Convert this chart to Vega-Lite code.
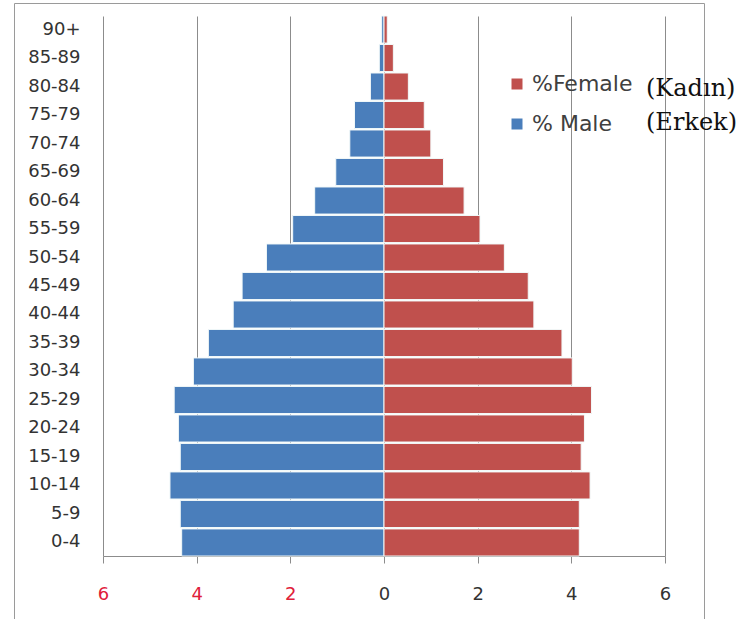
{
  "$schema": "https://vega.github.io/schema/vega-lite/v6.json",
  "width": 690,
  "height": 617,
  "autosize": {"type": "none"},
  "padding": {"left": 14, "top": 3, "right": 42, "bottom": 0},
  "background": "white",
  "config": {"view": {"stroke": "#9a9a9a", "strokeWidth": 1}, "font": "DejaVu Sans"},
  "data": {
    "values": [
      {"age": "90+", "sex": "% Male", "tr": "(Erkek)", "value": -0.05},
      {"age": "85-89", "sex": "% Male", "tr": "(Erkek)", "value": -0.1},
      {"age": "80-84", "sex": "% Male", "tr": "(Erkek)", "value": -0.29},
      {"age": "75-79", "sex": "% Male", "tr": "(Erkek)", "value": -0.63},
      {"age": "70-74", "sex": "% Male", "tr": "(Erkek)", "value": -0.73},
      {"age": "65-69", "sex": "% Male", "tr": "(Erkek)", "value": -1.03},
      {"age": "60-64", "sex": "% Male", "tr": "(Erkek)", "value": -1.48},
      {"age": "55-59", "sex": "% Male", "tr": "(Erkek)", "value": -1.95},
      {"age": "50-54", "sex": "% Male", "tr": "(Erkek)", "value": -2.51},
      {"age": "45-49", "sex": "% Male", "tr": "(Erkek)", "value": -3.03},
      {"age": "40-44", "sex": "% Male", "tr": "(Erkek)", "value": -3.22},
      {"age": "35-39", "sex": "% Male", "tr": "(Erkek)", "value": -3.75},
      {"age": "30-34", "sex": "% Male", "tr": "(Erkek)", "value": -4.07},
      {"age": "25-29", "sex": "% Male", "tr": "(Erkek)", "value": -4.48},
      {"age": "20-24", "sex": "% Male", "tr": "(Erkek)", "value": -4.39},
      {"age": "15-19", "sex": "% Male", "tr": "(Erkek)", "value": -4.35},
      {"age": "10-14", "sex": "% Male", "tr": "(Erkek)", "value": -4.57},
      {"age": "5-9", "sex": "% Male", "tr": "(Erkek)", "value": -4.35},
      {"age": "0-4", "sex": "% Male", "tr": "(Erkek)", "value": -4.32},
      {"age": "90+", "sex": "%Female", "tr": "(Kadın)", "value": 0.07},
      {"age": "85-89", "sex": "%Female", "tr": "(Kadın)", "value": 0.2},
      {"age": "80-84", "sex": "%Female", "tr": "(Kadın)", "value": 0.52},
      {"age": "75-79", "sex": "%Female", "tr": "(Kadın)", "value": 0.86},
      {"age": "70-74", "sex": "%Female", "tr": "(Kadın)", "value": 1.0},
      {"age": "65-69", "sex": "%Female", "tr": "(Kadın)", "value": 1.27},
      {"age": "60-64", "sex": "%Female", "tr": "(Kadın)", "value": 1.71},
      {"age": "55-59", "sex": "%Female", "tr": "(Kadın)", "value": 2.05},
      {"age": "50-54", "sex": "%Female", "tr": "(Kadın)", "value": 2.57},
      {"age": "45-49", "sex": "%Female", "tr": "(Kadın)", "value": 3.08},
      {"age": "40-44", "sex": "%Female", "tr": "(Kadın)", "value": 3.2},
      {"age": "35-39", "sex": "%Female", "tr": "(Kadın)", "value": 3.8},
      {"age": "30-34", "sex": "%Female", "tr": "(Kadın)", "value": 4.02},
      {"age": "25-29", "sex": "%Female", "tr": "(Kadın)", "value": 4.43},
      {"age": "20-24", "sex": "%Female", "tr": "(Kadın)", "value": 4.28},
      {"age": "15-19", "sex": "%Female", "tr": "(Kadın)", "value": 4.21},
      {"age": "10-14", "sex": "%Female", "tr": "(Kadın)", "value": 4.4},
      {"age": "5-9", "sex": "%Female", "tr": "(Kadın)", "value": 4.17},
      {"age": "0-4", "sex": "%Female", "tr": "(Kadın)", "value": 4.17}
    ]
  },
  "layer": [
    {
      "mark": {"type": "bar", "stroke": "#f2f9f9", "strokeWidth": 1},
      "encoding": {
        "y": {
          "field": "age",
          "type": "nominal",
          "sort": ["90+", "85-89", "80-84", "75-79", "70-74", "65-69", "60-64", "55-59", "50-54", "45-49", "40-44", "35-39", "30-34", "25-29", "20-24", "15-19", "10-14", "5-9", "0-4"],
          "scale": {"range": [13, 553], "paddingInner": 0.05, "paddingOuter": 0.0},
          "axis": {
            "title": null,
            "orient": "left",
            "offset": -89,
            "ticks": false,
            "tickSize": 0,
            "labelPadding": 23,
            "labelFontSize": 18,
            "labelFont": "DejaVu Sans",
            "labelColor": "#333333",
            "domainColor": "#8c8c8c",
            "grid": false
          }
        },
        "x": {
          "field": "value",
          "type": "quantitative",
          "scale": {"domain": [-6, 6], "range": [89, 651], "nice": false, "zero": false},
          "axis": {
            "title": null,
            "orient": "bottom",
            "offset": -64,
            "values": [-6, -4, -2, 0, 2, 4, 6],
            "labelExpr": "'' + abs(datum.value)",
            "labelFlush": false,
            "labelOverlap": false,
            "grid": false,
            "tickSize": 7,
            "tickColor": "#8c8c8c",
            "domainColor": "#8c8c8c",
            "labelFontSize": 18,
            "labelFont": "DejaVu Sans",
            "labelPadding": 22,
            "labelColor": {"condition": {"test": "datum.value < 0", "value": "#e0203a"}, "value": "#333333"}
          }
        },
        "color": {
          "field": "sex",
          "type": "nominal",
          "scale": {"domain": ["%Female", "% Male"], "range": ["#c0504d", "#4a7ebb"]},
          "legend": {
            "orient": "none",
            "legendX": 492,
            "legendY": 70,
            "title": null,
            "symbolType": "square",
            "symbolSize": 121,
            "symbolStrokeWidth": 0,
            "labelFontSize": 22,
            "labelFont": "DejaVu Sans",
            "labelColor": "#404040",
            "labelOffset": 4,
            "rowPadding": 18,
            "padding": 0
          }
        }
      }
    },
    {
      "mark": {"type": "point", "opacity": 0},
      "encoding": {
        "y": {
          "field": "age",
          "type": "nominal",
          "sort": ["90+", "85-89", "80-84", "75-79", "70-74", "65-69", "60-64", "55-59", "50-54", "45-49", "40-44", "35-39", "30-34", "25-29", "20-24", "15-19", "10-14", "5-9", "0-4"]
        },
        "x": {
          "field": "value",
          "type": "quantitative",
          "axis": {
            "title": null,
            "orient": "top",
            "values": [-4, -2, 0, 2, 4, 6],
            "grid": true,
            "gridColor": "#8c8c8c",
            "gridWidth": 1,
            "labels": false,
            "ticks": false,
            "domain": false
          }
        },
        "shape": {
          "field": "tr",
          "type": "nominal",
          "scale": {"domain": ["(Kadın)", "(Erkek)"]},
          "legend": {
            "orient": "none",
            "legendX": 608,
            "legendY": 74,
            "title": null,
            "symbolOpacity": 0,
            "symbolStrokeWidth": 0,
            "symbolSize": 1,
            "labelFont": "DejaVu Serif",
            "labelFontSize": 24,
            "labelColor": "#111111",
            "labelOffset": 0,
            "rowPadding": 10,
            "padding": 0
          }
        }
      }
    }
  ],
  "resolve": {"axis": {"x": "independent"}}
}
